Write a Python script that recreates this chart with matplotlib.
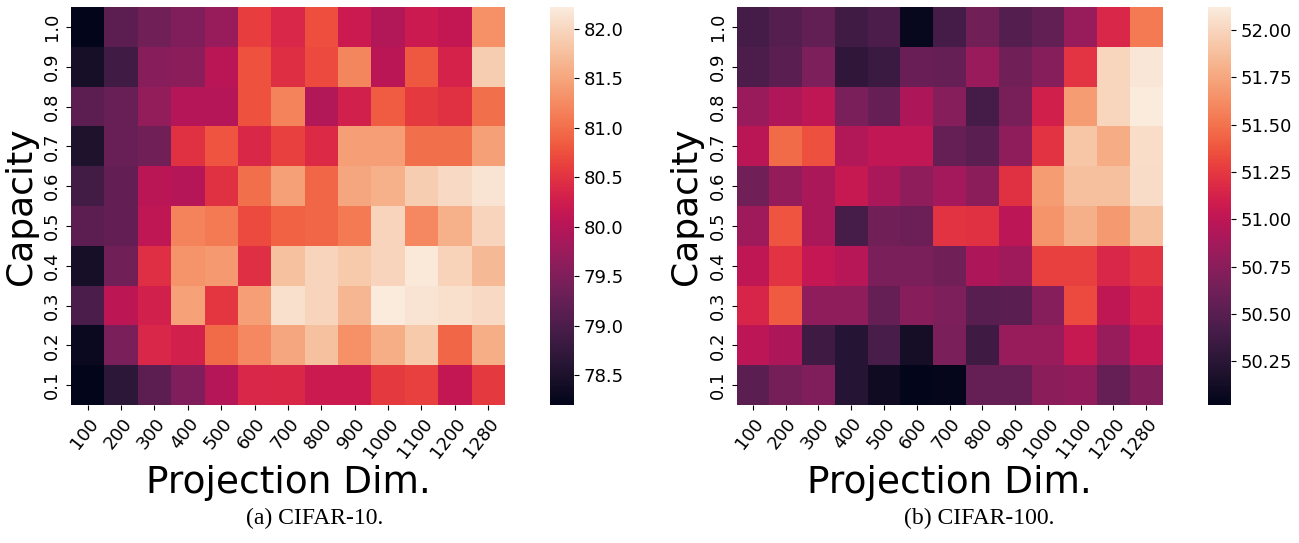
import numpy as np
import matplotlib
matplotlib.use("Agg")
import matplotlib.pyplot as plt
import seaborn as sns

# projection dims (columns) and capacities (rows, top to bottom)
proj_dims = ["100", "200", "300", "400", "500", "600", "700", "800", "900", "1000", "1100", "1200", "1280"]
capacities = ["1.0", "0.9", "0.8", "0.7", "0.6", "0.5", "0.4", "0.3", "0.2", "0.1"]

# CIFAR-10 accuracy
acc_c10 = [
    [78.20, 79.17, 79.37, 79.49, 79.73, 80.60, 80.37, 80.73, 80.21, 79.97, 80.21, 80.13, 81.30],
    [78.44, 78.88, 79.57, 79.60, 80.05, 80.77, 80.45, 80.71, 81.20, 80.05, 80.81, 80.33, 81.90],
    [79.17, 79.27, 79.69, 80.00, 80.00, 80.77, 81.17, 79.97, 80.29, 80.85, 80.57, 80.49, 81.00],
    [78.52, 79.27, 79.35, 80.49, 80.79, 80.39, 80.61, 80.41, 81.42, 81.42, 81.01, 81.01, 81.45],
    [78.92, 79.23, 80.05, 79.99, 80.49, 81.00, 81.45, 80.93, 81.50, 81.62, 81.90, 82.02, 82.14],
    [79.17, 79.23, 80.09, 81.17, 81.09, 80.71, 80.89, 80.93, 81.09, 81.98, 81.23, 81.62, 81.98],
    [78.44, 79.37, 80.47, 81.34, 81.38, 80.47, 81.78, 81.98, 81.86, 81.98, 82.18, 81.96, 81.70],
    [79.00, 80.07, 80.29, 81.46, 80.53, 81.42, 82.10, 81.98, 81.66, 82.22, 82.14, 82.10, 82.02],
    [78.32, 79.45, 80.37, 80.29, 80.97, 81.22, 81.50, 81.78, 81.30, 81.58, 81.86, 80.93, 81.58],
    [78.20, 78.68, 79.17, 79.49, 80.00, 80.37, 80.39, 80.21, 80.21, 80.57, 80.61, 80.13, 80.57],
]

# CIFAR-100 accuracy
acc_c100 = [
    [50.40, 50.48, 50.55, 50.38, 50.44, 50.06, 50.40, 50.63, 50.48, 50.55, 50.82, 51.16, 51.53],
    [50.44, 50.52, 50.69, 50.29, 50.34, 50.59, 50.57, 50.83, 50.63, 50.73, 51.23, 52.00, 52.09],
    [50.83, 50.93, 51.01, 50.67, 50.57, 50.92, 50.73, 50.40, 50.66, 51.11, 51.70, 52.00, 52.12],
    [50.98, 51.47, 51.35, 50.94, 51.02, 51.02, 50.57, 50.52, 50.78, 51.22, 51.91, 51.78, 52.04],
    [50.63, 50.80, 50.90, 51.05, 50.91, 50.78, 50.88, 50.76, 51.21, 51.70, 51.88, 51.88, 52.03],
    [50.85, 51.37, 50.90, 50.41, 50.63, 50.60, 51.22, 51.21, 50.99, 51.66, 51.80, 51.68, 51.89],
    [51.01, 51.22, 51.03, 50.97, 50.67, 50.67, 50.62, 50.92, 50.85, 51.28, 51.28, 51.16, 51.22],
    [51.15, 51.39, 50.78, 50.78, 50.57, 50.74, 50.69, 50.51, 50.52, 50.73, 51.33, 51.01, 51.13],
    [50.99, 50.92, 50.37, 50.23, 50.43, 50.14, 50.67, 50.37, 50.82, 50.82, 51.05, 50.82, 51.03],
    [50.52, 50.65, 50.70, 50.23, 50.11, 50.02, 50.04, 50.57, 50.57, 50.76, 50.79, 50.57, 50.71],
]

fig = plt.figure(figsize=(12.99, 5.43), dpi=100)

panels = [
    (acc_c10, [0.0547, 0.254, 0.334, 0.733], [0.4234, 0.254, 0.0185, 0.733], "(a) CIFAR-10.", 0.242, "%.1f"),
    (acc_c100, [0.567, 0.254, 0.328, 0.733], [0.930, 0.254, 0.0177, 0.733], "(b) CIFAR-100.", 0.754, "%.2f"),
]

for data, ax_pos, cb_pos, caption, cap_x, fmt in panels:
    ax = fig.add_axes(ax_pos)
    cax = fig.add_axes(cb_pos)
    sns.heatmap(np.array(data), ax=ax, cbar_ax=cax, cmap="rocket",
                xticklabels=proj_dims, yticklabels=capacities,
                cbar_kws={"format": fmt})
    ax.set_xticklabels(proj_dims, rotation=52, ha="right", rotation_mode="anchor", fontsize=13)
    ax.set_yticklabels(capacities, rotation=90, va="center", fontsize=13)
    ax.set_xlabel("Projection Dim.", fontsize=27, labelpad=2)
    ax.set_ylabel("Capacity", fontsize=26)
    cax.tick_params(labelsize=13)
    fig.text(cap_x, 0.045, caption, ha="center", va="center",
             fontsize=17, family="Liberation Serif")

fig.savefig("out.png", dpi=100)
